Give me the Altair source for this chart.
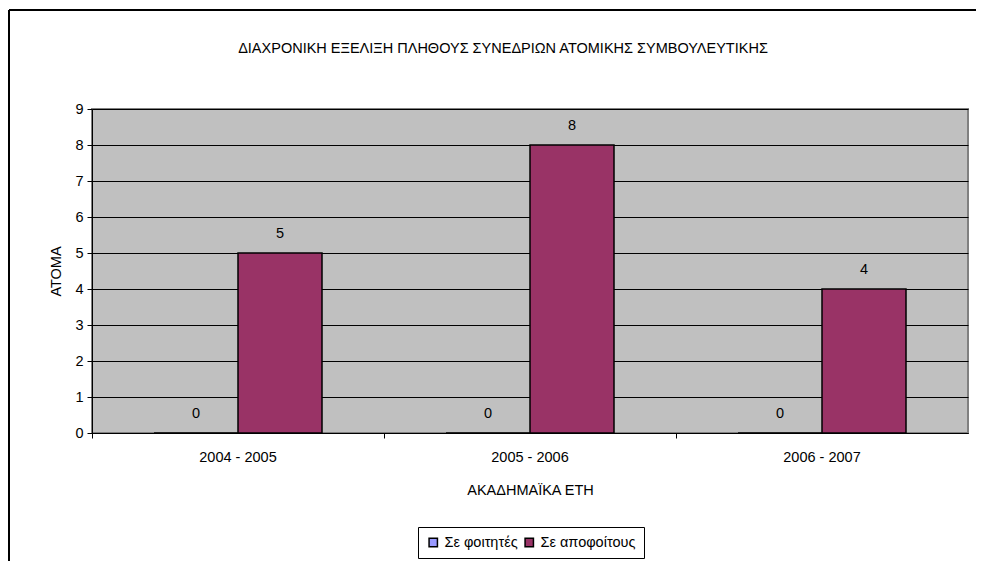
import altair as alt
import pandas as pd

years = ["2004 - 2005", "2005 - 2006", "2006 - 2007"]
series_names = ["Σε φοιτητές", "Σε αποφοίτους"]
students = [0, 0, 0]
graduates = [5, 8, 4]
y_ticks = [0, 1, 2, 3, 4, 5, 6, 7, 8, 9]
colors = ["#9999FF", "#993366"]

rows = []
for i, yr in enumerate(years):
    rows.append({"year": yr, "series": series_names[0], "value": students[i]})
    rows.append({"year": yr, "series": series_names[1], "value": graduates[i]})
df = pd.DataFrame(rows)

FONT = "Liberation Sans"
FS = 14.5

x_enc = alt.X(
    "year:N", sort=years,
    scale=alt.Scale(paddingInner=0, paddingOuter=0),
    axis=alt.Axis(title="ΑΚΑΔΗΜΑΪΚΑ ΕΤΗ", labelAngle=0, bandPosition=0,
                  domainColor="black", tickColor="black", tickSize=5, labelPadding=12,
                  titlePadding=20, labelFontSize=FS, titleFontSize=FS, titleFontWeight="normal",
                  labelFont=FONT, titleFont=FONT, labelColor="black", titleColor="black"),
)
y_enc = alt.Y(
    "value:Q",
    scale=alt.Scale(domain=[0, 9], nice=False),
    axis=alt.Axis(title="ΑΤΟΜΑ", values=y_ticks, labelOverlap=False, grid=True,
                  gridColor="black", gridOpacity=1,
                  domainColor="black", tickColor="black", tickSize=5, labelPadding=4,
                  titlePadding=11, labelFontSize=FS, titleFontSize=FS, titleFontWeight="normal",
                  labelFont=FONT, titleFont=FONT, labelColor="black", titleColor="black"),
)
xoff = alt.XOffset("series:N", sort=series_names,
                   scale=alt.Scale(paddingInner=0, paddingOuter=0.738))

base = alt.Chart(df)
bars = base.mark_bar(stroke="black", strokeWidth=1.5).encode(
    x=x_enc, y=y_enc, xOffset=xoff,
    color=alt.Color("series:N", sort=series_names,
                    scale=alt.Scale(domain=series_names, range=colors),
                    legend=alt.Legend(title=None, orient="none", legendX=326, legendY=418,
                                      direction="horizontal", strokeColor="black", fillColor="white",
                                      padding=8, symbolType="square", symbolSize=70,
                                      symbolStrokeColor="black", symbolStrokeWidth=1.5,
                                      labelFontSize=FS, labelFont=FONT, labelColor="black",
                                      labelOffset=4, columnPadding=4, symbolOpacity=1)),
)
labels = base.mark_text(dy=-19.5, baseline="middle", fontSize=FS, font=FONT, color="black").encode(
    x=x_enc, y=y_enc, xOffset=xoff, text="value:Q"
)

frame_data = alt.Data(values=[{"a": 1}])
frame_top = alt.Chart(frame_data).mark_rule(color="black", strokeWidth=2).encode(
    x=alt.value(-83), x2=alt.value(900), y=alt.value(-99)
)
frame_left = alt.Chart(frame_data).mark_rule(color="black", strokeWidth=2).encode(
    x=alt.value(-83), y=alt.value(-99), y2=alt.value(460)
)

chart = alt.layer(bars, labels, frame_top, frame_left).properties(
    width=876, height=324,
    title=alt.TitleParams("ΔΙΑΧΡΟΝΙΚΗ ΕΞΕΛΙΞΗ ΠΛΗΘΟΥΣ ΣΥΝΕΔΡΙΩΝ ΑΤΟΜΙΚΗΣ ΣΥΜΒΟΥΛΕΥΤΙΚΗΣ",
                          fontSize=FS, fontWeight="normal", font=FONT, color="black",
                          anchor="middle", offset=-47, dx=-27),
    autosize=alt.AutoSizeParams(type="none"),
    padding={"left": 84, "top": 101, "right": 8, "bottom": 128},
).configure_view(fill="#C0C0C0", stroke="#808080", strokeWidth=2)

chart.save("out.html", embed_options={"renderer": "svg", "actions": False})
